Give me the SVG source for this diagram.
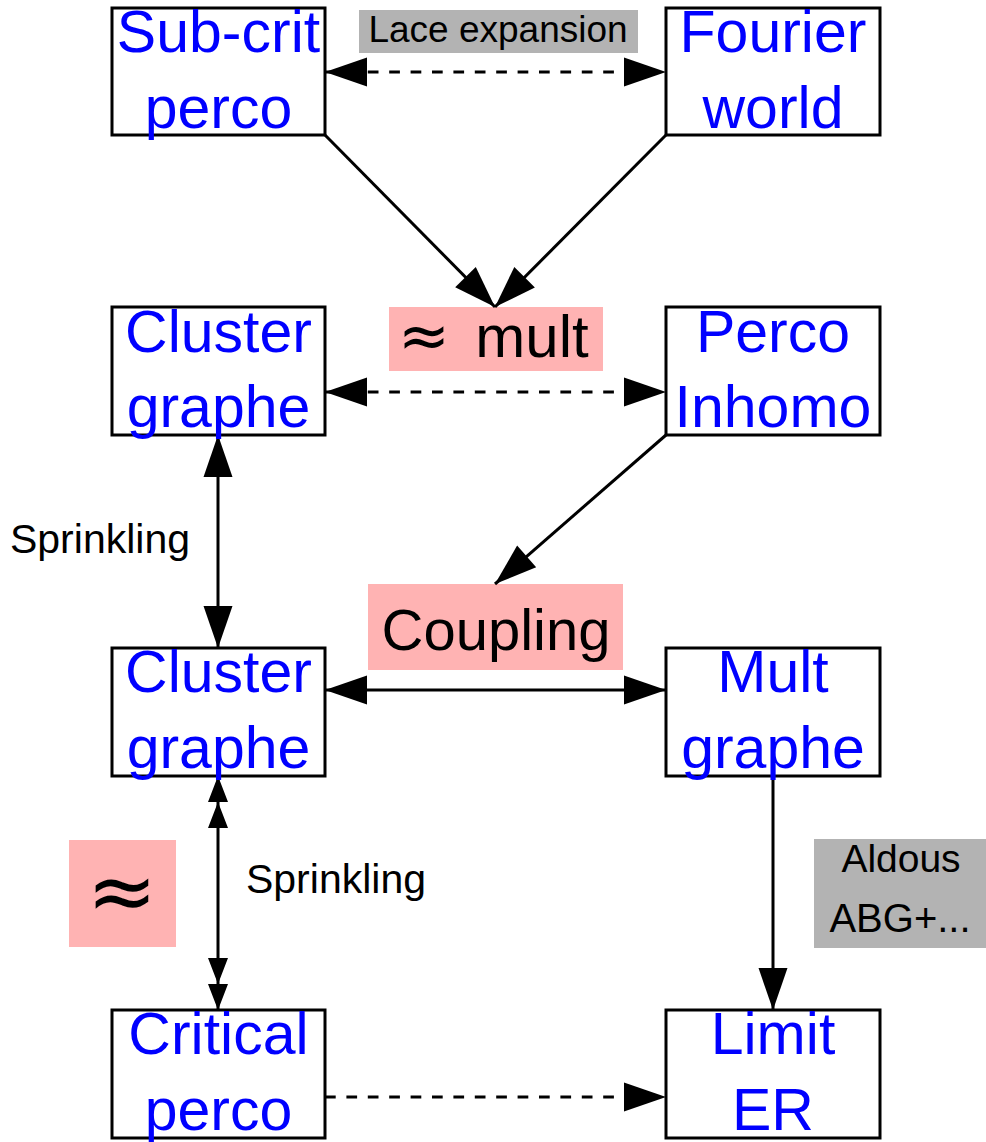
<svg xmlns="http://www.w3.org/2000/svg" width="986" height="1142" viewBox="0 0 986 1142">
<style>
.box{fill:#fff;stroke:#000;stroke-width:3}
.nt{font-family:"Liberation Sans",Arial,sans-serif;font-size:59px;fill:#0000FF;text-anchor:middle}
.lbl{font-family:"Liberation Sans",Arial,sans-serif;fill:#000;text-anchor:middle}
.sym{font-family:"DejaVu Sans",sans-serif}
.ln{fill:none;stroke:#000;stroke-width:3}
.dash{stroke-dasharray:10.7 10.7}
.grey{fill:#B3B3B3}
.pink{fill:#FFB3B3}
</style>
<defs>
<marker id="big" markerUnits="userSpaceOnUse" markerWidth="44" markerHeight="30" refX="42" refY="14.5" orient="auto-start-reverse" overflow="visible">
<path d="M0,0 L42,14.5 L0,29 Z" fill="#000"/>
</marker>
<marker id="dbl" markerUnits="userSpaceOnUse" markerWidth="54" markerHeight="22" refX="52" refY="10" orient="auto-start-reverse" overflow="visible">
<path d="M0,0 L26,10 L0,20 Z M26,0 L52,10 L26,20 Z" fill="#000"/>
</marker>
</defs>

<g id="labels">
<rect class="grey" x="359" y="10" width="279" height="43"/>
<text class="lbl" x="498" y="42" font-size="37">Lace expansion</text>
<rect class="pink" x="389" y="307" width="214" height="64"/>
<text class="lbl" x="424" y="357" font-size="62"><tspan class="sym">≈</tspan></text>
<text class="lbl" x="532" y="357" font-size="60">mult</text>
<text class="lbl" x="100" y="553" font-size="41">Sprinkling</text>
<rect class="pink" x="368" y="584" width="255" height="86"/>
<text class="lbl" x="496" y="650" font-size="58">Coupling</text>
<rect class="pink" x="69" y="840" width="107" height="107"/>
<text class="lbl sym" x="122" y="920" font-size="84">≈</text>
<text class="lbl" x="336" y="893" font-size="41">Sprinkling</text>
<rect class="grey" x="814" y="839" width="172" height="109"/>
<text class="lbl" x="901" y="872" font-size="39">Aldous</text>
<text class="lbl" x="900" y="932" font-size="40">ABG+...</text>
</g>

<g id="connectors">
<line class="ln dash" x1="325" y1="72" x2="666" y2="72" marker-start="url(#big)" marker-end="url(#big)"/>
<line class="ln" x1="325" y1="135" x2="495" y2="307" marker-end="url(#big)"/>
<line class="ln" x1="666" y1="135" x2="495" y2="307" marker-end="url(#big)"/>
<line class="ln dash" x1="325" y1="392" x2="666" y2="392" marker-start="url(#big)" marker-end="url(#big)"/>
<line class="ln" x1="218" y1="435" x2="218" y2="648" marker-start="url(#big)" marker-end="url(#big)"/>
<line class="ln" x1="666" y1="435" x2="495" y2="584" marker-end="url(#big)"/>
<line class="ln" x1="325" y1="690" x2="666" y2="690" marker-start="url(#big)" marker-end="url(#big)"/>
<line class="ln" x1="218" y1="776" x2="218" y2="1010" marker-start="url(#dbl)" marker-end="url(#dbl)"/>
<line class="ln" x1="773" y1="776" x2="773" y2="1010" marker-end="url(#big)"/>
<line class="ln dash" x1="325" y1="1097" x2="666" y2="1097" marker-end="url(#big)"/>
</g>

<g id="subcrit">
<rect class="box" x="112" y="8" width="213" height="127"/>
<text class="nt" x="218.5" y="52">Sub-crit</text>
<text class="nt" x="218.5" y="128">perco</text>
</g>
<g id="fourier">
<rect class="box" x="666" y="8" width="214" height="127"/>
<text class="nt" x="773" y="52">Fourier</text>
<text class="nt" x="773" y="128">world</text>
</g>
<g id="cluster1">
<rect class="box" x="112" y="307" width="213" height="128"/>
<text class="nt" x="218.5" y="352">Cluster</text>
<text class="nt" x="218.5" y="427">graphe</text>
</g>
<g id="percoinhomo">
<rect class="box" x="666" y="307" width="214" height="128"/>
<text class="nt" x="773" y="352">Perco</text>
<text class="nt" x="773" y="427">Inhomo</text>
</g>
<g id="cluster2">
<rect class="box" x="112" y="648" width="213" height="128"/>
<text class="nt" x="218.5" y="692">Cluster</text>
<text class="nt" x="218.5" y="768">graphe</text>
</g>
<g id="multgraphe">
<rect class="box" x="666" y="648" width="214" height="128"/>
<text class="nt" x="773" y="692">Mult</text>
<text class="nt" x="773" y="768">graphe</text>
</g>
<g id="critical">
<rect class="box" x="112" y="1010" width="213" height="128"/>
<text class="nt" x="218.5" y="1054">Critical</text>
<text class="nt" x="218.5" y="1130">perco</text>
</g>
<g id="limiter">
<rect class="box" x="666" y="1010" width="214" height="128"/>
<text class="nt" x="773" y="1054">Limit</text>
<text class="nt" x="773" y="1130">ER</text>
</g>
</svg>
